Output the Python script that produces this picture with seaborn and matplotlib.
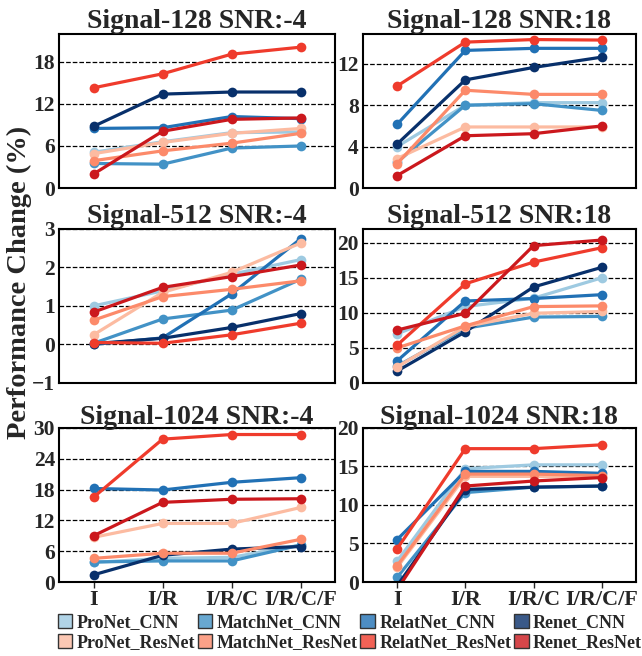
import matplotlib
matplotlib.use("Agg")
import matplotlib.pyplot as plt
from matplotlib.patches import Patch
import numpy as np
import pandas as pd
import seaborn as sns

stages = ["I", "I/R", "I/R/C", "I/R/C/F"]
models = ["ProNet_CNN", "MatchNet_CNN", "RelatNet_CNN", "Renet_CNN",
          "ProNet_ResNet", "MatchNet_ResNet", "RelatNet_ResNet", "Renet_ResNet"]
line_colors = ["#9ecae1", "#4292c6", "#2171b5", "#08306b",
               "#fcbba1", "#fc8a6a", "#ef3b2c", "#cb181d"]

# rows follow `models`, columns follow `stages`
sig128_snr_m4 = [
    [5.1, 6.6, 7.9, 8.0],
    [3.5, 3.4, 5.7, 6.0],
    [8.5, 8.6, 10.2, 9.9],
    [8.8, 13.4, 13.7, 13.7],
    [4.9, 6.5, 7.8, 8.5],
    [3.9, 5.3, 6.4, 7.8],
    [14.3, 16.3, 19.1, 20.1],
    [2.0, 8.1, 9.8, 10.0],
]
sig128_snr_18 = [
    [4.0, 8.0, 8.25, 8.25],
    [2.5, 8.0, 8.15, 7.5],
    [6.15, 13.3, 13.5, 13.5],
    [4.25, 10.45, 11.65, 12.65],
    [2.85, 5.9, 5.9, 5.9],
    [2.35, 9.45, 9.05, 9.05],
    [9.85, 14.1, 14.35, 14.3],
    [1.2, 5.05, 5.25, 6.0],
]
sig512_snr_m4 = [
    [1.0, 1.39, 1.82, 2.2],
    [0.03, 0.66, 0.89, 1.69],
    [0.0, 0.17, 1.31, 2.74],
    [0.02, 0.16, 0.44, 0.8],
    [0.25, 1.35, 1.87, 2.63],
    [0.63, 1.24, 1.43, 1.65],
    [0.05, 0.03, 0.25, 0.55],
    [0.84, 1.48, 1.76, 2.06],
]
sig512_snr_18 = [
    [7.0, 10.9, 12.1, 15.0],
    [2.4, 7.8, 9.4, 9.5],
    [3.15, 11.7, 12.05, 12.6],
    [1.7, 7.3, 13.7, 16.5],
    [2.3, 8.05, 9.95, 10.2],
    [5.0, 8.15, 10.9, 11.0],
    [5.4, 14.15, 17.25, 19.3],
    [7.55, 9.95, 19.6, 20.4],
]
sig1024_snr_m4 = [
    [3.8, 4.6, 4.8, 7.2],
    [3.9, 4.1, 4.1, 7.2],
    [18.2, 17.9, 19.4, 20.3],
    [1.4, 5.2, 6.4, 6.9],
    [8.7, 11.4, 11.4, 14.5],
    [4.6, 5.6, 5.6, 8.3],
    [16.5, 27.8, 28.7, 28.7],
    [9.0, 15.5, 16.1, 16.2],
]
sig1024_snr_18 = [
    [2.7, 14.7, 15.2, 15.2],
    [0.6, 11.6, 12.3, 12.45],
    [5.5, 14.35, 14.35, 14.1],
    [-0.5, 12.0, 12.3, 12.45],
    [1.9, 13.7, 13.7, 13.6],
    [2.1, 14.0, 14.0, 13.8],
    [4.3, 17.3, 17.3, 17.8],
    [-1.0, 12.45, 13.1, 13.55],
]

panels = [
    ("Signal-128 SNR:-4", sig128_snr_m4, [0, 6, 12, 18], (0, 22)),
    ("Signal-128 SNR:18", sig128_snr_18, [0, 4, 8, 12], (0, 14.9)),
    ("Signal-512 SNR:-4", sig512_snr_m4, [-1, 0, 1, 2, 3], (-1, 3)),
    ("Signal-512 SNR:18", sig512_snr_18, [0, 5, 10, 15, 20], (0, 22)),
    ("Signal-1024 SNR:-4", sig1024_snr_m4, [0, 6, 12, 18, 24, 30], (0, 30)),
    ("Signal-1024 SNR:18", sig1024_snr_18, [0, 5, 10, 15, 20], (0, 20)),
]

sns.set_style("white")
plt.rcParams["font.family"] = ["Liberation Serif", "DejaVu Serif"]
plt.rcParams["font.weight"] = "bold"

fig = plt.figure(figsize=(6.42, 6.56), dpi=100)

lefts = [0.092, 0.5654]
bottoms = [0.7134, 0.4162, 0.1128]
widths = [0.430, 0.425]
h = 0.235

for i, (title, vals, yticks, ylim) in enumerate(panels):
    r, c = divmod(i, 2)
    ax = fig.add_axes([lefts[c], bottoms[r], widths[c], h])
    rows = []
    for m, series in zip(models, vals):
        for k, v in enumerate(series):
            rows.append({"model": m, "stage": k, "value": v})
    df = pd.DataFrame(rows)
    sns.lineplot(data=df, x="stage", y="value", hue="model", hue_order=models,
                 palette=line_colors, marker="o", markersize=7, markeredgewidth=0,
                 linewidth=2.3, legend=False, ax=ax)
    ax.set_xlim(-0.5, 3.5)
    ax.set_ylim(*ylim)
    ax.set_yticks(yticks)
    ax.set_xticks(range(len(stages)))
    if r == 2:
        ax.set_xticklabels(stages, fontsize=16, fontweight="bold")
        ax.tick_params(axis="x", length=4, width=1, direction="out", bottom=True, pad=2)
    else:
        ax.set_xticklabels([])
        ax.tick_params(axis="x", length=0)
    ax.tick_params(axis="y", length=0, labelsize=15.5, pad=3)
    for lab in ax.get_yticklabels():
        lab.set_fontweight("bold")
    ax.set_xlabel("")
    ax.set_ylabel("")
    ax.yaxis.grid(True, linestyle="--", color="black", linewidth=0.9)
    ax.xaxis.grid(False)
    for s in ax.spines.values():
        s.set_color("black")
        s.set_linewidth(1.5)
    ax.set_title(title, fontsize=20, fontweight="bold", pad=3)

fig.text(0.030, 0.57, "Performance Change (%)", rotation=90, fontsize=20.5,
         fontweight="bold", ha="center", va="center")

# legend: CNN row on top, ResNet row below
handles = []
for j in range(4):
    for k in (j, j + 4):
        rgba = matplotlib.colors.to_rgba(line_colors[k], 0.8)
        handles.append(Patch(facecolor=rgba, edgecolor="#333333", linewidth=1,
                             label=models[k]))
fig.legend(handles=handles, ncol=4, loc="center", bbox_to_anchor=(0.545, 0.036),
           frameon=False, handlelength=0.8, handleheight=0.8,
           handletextpad=0.25, columnspacing=0.15, labelspacing=0.15,
           borderpad=0.1, prop={"weight": "bold", "size": 13})

fig.savefig("out.png", dpi=100)
